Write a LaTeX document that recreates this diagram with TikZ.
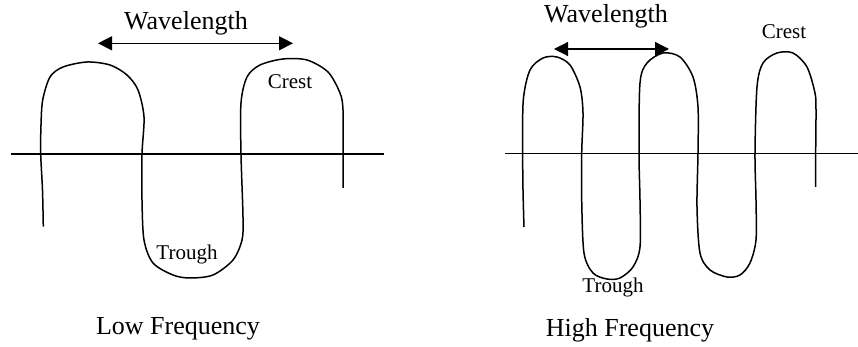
\documentclass[tikz,border=0pt]{standalone}
\usepackage{fontspec}
\setmainfont{Liberation Serif}
\usetikzlibrary{arrows.meta, positioning}

\begin{document}
\begin{tikzpicture}[x=0.5pt, y=-0.5pt,
    wave/.style={line width=0.75pt, line join=round},
    axis/.style={line width=0.75pt},
    biglabel/.style={font=\fontsize{13}{15}\selectfont, anchor=base, inner sep=0pt},
    smalllabel/.style={font=\fontsize{10.5}{12}\selectfont, anchor=base, inner sep=0pt},
    span/.style={{Triangle[length=7pt, width=7pt]}-{Triangle[length=7pt, width=7pt]}, line width=0.6pt}]
  \useasboundingbox (0,0) rectangle (858,347);

  % low frequency
  \draw[axis] (11,154) -- (384,154);
  \draw[wave] plot[smooth, tension=0.5] coordinates {(43.3,226.7) (42.5,190) (40.7,154) (41,125) (42.7,100) (50,77) (63,67) (87,62) (110,65) (127,75) (138,90) (144,117) (142,154) (142,200) (144,240) (153,263) (173,275) (190,278) (213,275) (233,260) (242,240) (243,217) (241,154) (241,103) (247,77) (260,65) (283,59) (307,60) (328,72) (340,93) (343,110) (343,154) (343,188)};
  \node[biglabel] (wlLow) at (186,30) {Wavelength};
  \coordinate (wlLowA) at (98,43.3);
  \coordinate (wlLowB) at (293,43.3);
  \draw[span] (wlLowA) -- (wlLowB);
  \node[smalllabel] (crestLow) at (290,89) {Crest};
  \node[smalllabel] (troughLow) at (187,260) {Trough};
  \node[biglabel] (low) at (178,335) {Low Frequency};

  % high frequency
  \draw[axis] (505,153.3) -- (858,153.3);
  \draw[wave] plot[smooth, tension=0.5] coordinates {(524,227) (523,190) (522.7,153) (523.3,100) (530,70) (543,58) (557,57) (570,65) (580,87) (583,113) (581.7,153) (581.7,200) (584,253) (593,273) (607,279) (620,278) (633,267) (640,247) (640,200) (639,153) (640,83) (647,63) (663,53) (680,57) (693,77) (698,107) (698,153) (697,207) (700,253) (710,270) (727,277) (740,275) (750,263) (756,240) (756,200) (755,153) (757,87) (763,63) (777,53) (793,53) (807,67) (815,93) (816,110) (815.7,153) (815.7,187)};
  \node[biglabel] (wlHigh) at (606,22.7) {Wavelength};
  \coordinate (wlHighA) at (554,49);
  \coordinate (wlHighB) at (669,49);
  \draw[span] (wlHighA) -- (wlHighB);
  \node[smalllabel] (crestHigh) at (784,39) {Crest};
  \node[smalllabel] (troughHigh) at (613,293) {Trough};
  \node[biglabel] (high) at (630,337) {High Frequency};
\end{tikzpicture}
\end{document}
